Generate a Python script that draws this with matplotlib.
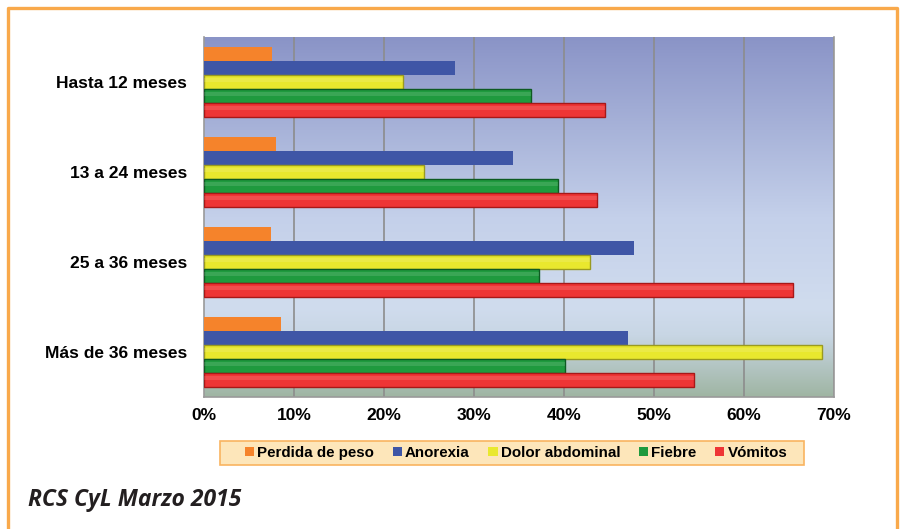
import numpy as np
import matplotlib
matplotlib.use("Agg")
import matplotlib.pyplot as plt
from matplotlib.colors import LinearSegmentedColormap
from matplotlib.lines import Line2D
from matplotlib.patches import Patch, Rectangle

categories = ["Hasta 12 meses", "13 a 24 meses", "25 a 36 meses", "Más de 36 meses"]
series = ["Perdida de peso", "Anorexia", "Dolor abdominal", "Fiebre", "Vómitos"]
perdida = [7.6, 8.0, 7.5, 8.6]
anorexia = [27.9, 34.3, 47.8, 47.1]
dolor = [22.1, 24.4, 42.9, 68.7]
fiebre = [36.3, 39.3, 37.2, 40.1]
vomitos = [44.6, 43.7, 65.4, 54.5]
xticks = [0, 10, 20, 30, 40, 50, 60, 70]

values = [perdida, anorexia, dolor, fiebre, vomitos]
colors = ["#F5832B", "#3F56A6", "#E9E82E", "#1F9A3E", "#EE3535"]
edges = ["#F5832B", "#3F56A6", "#9A9A20", "#0E5A22", "#A81818"]

W, H = 904, 529
fig = plt.figure(figsize=(W / 100, H / 100), dpi=100)
fig.patch.set_facecolor("white")

L, R, T, B = 204, 834, 37, 397
ax = fig.add_axes([L / W, 1 - B / H, (R - L) / W, (B - T) / H])

# background gradient
cmap = LinearSegmentedColormap.from_list(
    "bg",
    [(0.0, "#8A94C7"), (0.5, "#C4D0EA"), (0.75, "#D0DCEE"), (0.83, "#C8D6E4"), (1.0, "#9FB5A3")],
)
grad = np.linspace(0, 1, 256).reshape(-1, 1)
ax.imshow(grad, aspect="auto", cmap=cmap, extent=[0, 70, 3.5, -0.5], zorder=0)

n = len(series)
bh = 0.155
y = np.arange(len(categories))
for j, (vals, c, e) in enumerate(zip(values, colors, edges)):
    off = (j - (n - 1) / 2) * bh
    flat = j < 2
    ax.barh(y + off, vals, height=bh, color=c, edgecolor=e if not flat else "none",
            linewidth=1.0, zorder=3)
    if not flat:
        # highlight stripe for bevel look
        ax.barh(y + off - bh * 0.12, vals, height=bh * 0.3, color="white", alpha=0.12,
                linewidth=0, zorder=4)

ax.set_xlim(0, 70)
ax.set_ylim(3.5, -0.5)
ax.set_xticks(xticks)
ax.set_xticklabels([f"{v}%" for v in xticks], fontsize=12.5, fontweight="bold",
                   family="Liberation Sans")
ax.set_yticks(y)
ax.set_yticklabels(categories, fontsize=12.5, fontweight="bold", family="Liberation Sans")
ax.tick_params(axis="both", length=0)
ax.tick_params(axis="x", pad=8)
ax.tick_params(axis="y", pad=12)
for v in xticks[1:]:
    ax.axvline(v, color="#8C8C8C", lw=1.2, zorder=2)
for s in ax.spines.values():
    s.set_color("#9A9A9A")
    s.set_linewidth(1.2)
ax.spines["top"].set_visible(False)

# legend box
fig.add_artist(Rectangle((220 / W, 1 - 465 / H), 584 / W, 24 / H, transform=fig.transFigure,
                         facecolor="#FDE6BA", edgecolor="#F9B460", lw=1.2))
handles = [Patch(facecolor=c, edgecolor="none") for c in colors]
leg = fig.legend(handles, series, loc="center", bbox_to_anchor=(516 / W, 1 - 453 / H),
                 ncol=5, frameon=False, handlelength=0.6, handleheight=0.6,
                 handletextpad=0.2, columnspacing=1.25, borderpad=0.2,
                 prop={"family": "Liberation Sans", "weight": "bold", "size": 10.9})

fig.text(28 / W, 1 - 500 / H, "RCS CyL Marzo 2015", fontsize=16.5, fontweight="bold",
         style="italic", family="Open Sans", color="#231F20", va="center", ha="left")

# orange frame
fx = [8 / W, 8 / W, 897 / W, 897 / W]
fy = [0, 1 - 8 / H, 1 - 8 / H, 0]
fig.add_artist(Line2D(fx, fy, transform=fig.transFigure, color="#F9A94B", lw=2.4))

fig.savefig("out.png", dpi=100)
